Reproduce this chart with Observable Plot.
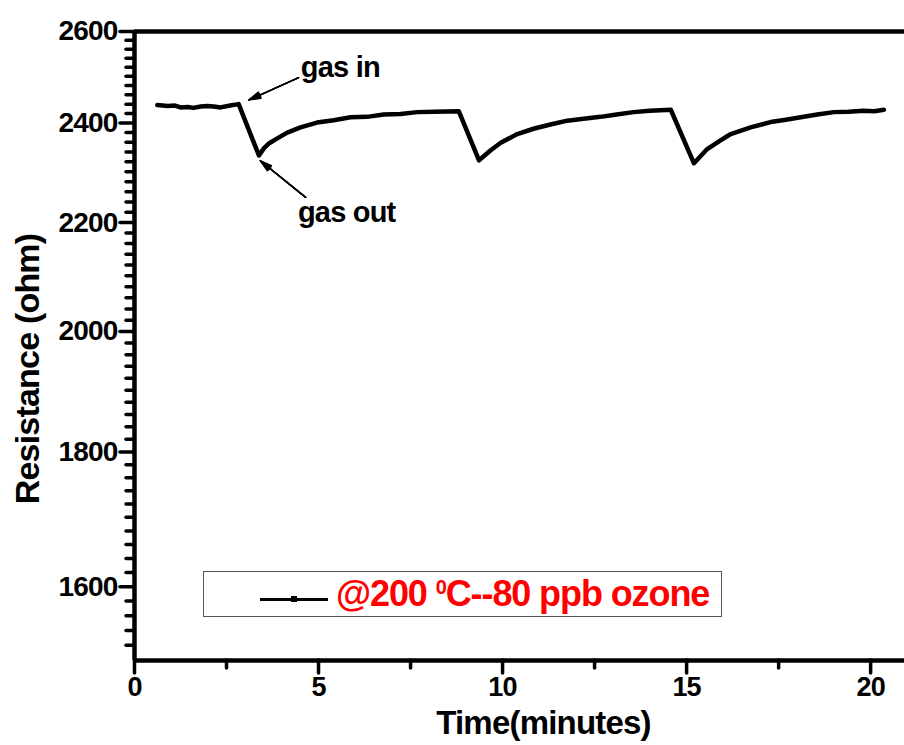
<!DOCTYPE html>
<html>
<head>
<meta charset="utf-8">
<script src="https://cdn.jsdelivr.net/npm/d3@7"></script>
<script src="https://cdn.jsdelivr.net/npm/@observablehq/plot@0.6"></script>
<style>
  html, body { margin: 0; padding: 0; background: white; }
  #wrap { position: relative; width: 904px; height: 745px; font-family: "Liberation Sans", Arial, sans-serif; }
  #wrap svg text { letter-spacing: -0.8px; }
  #legend { position: absolute; left: 203px; top: 571px; width: 519px; height: 46px; box-sizing: border-box; border: 1.5px solid #555; background: white; }
  #legend .ln { position: absolute; left: 56px; top: 25.5px; width: 68px; height: 3px; background: black; }
  #legend .mk { position: absolute; left: 87px; top: 24px; width: 6px; height: 6px; background: black; }
  #legend .tx { position: absolute; left: 132px; top: 4px; font-size: 36px; line-height: 36px; font-weight: bold; color: #ff0000; white-space: nowrap; letter-spacing: -1.1px; }
  #legend .tx sup { font-size: 20px; vertical-align: 0; position: relative; top: -12px; }
</style>
</head>
<body>
<div id="wrap"></div>
<script>
// Time (minutes) and resistance (ohm)
const time = [0.62, 0.9, 1.1, 1.25, 1.45, 1.6, 1.8, 1.98, 2.15, 2.34, 2.6, 2.83,
  3.38, 3.52, 3.66, 3.88, 4.15, 4.51, 4.96, 5.41, 5.87, 6.32, 6.77, 7.23, 7.68, 8.14, 8.81,
  9.36, 9.67, 9.95, 10.4, 10.84, 11.3, 11.76, 12.2, 12.66, 13.1, 13.56, 14.0, 14.57,
  15.2, 15.56, 15.9, 16.2, 16.74, 17.28, 17.7, 18.1, 18.55, 19.0, 19.4, 19.81, 20.1, 20.36];
const resistance = [2438, 2436, 2437, 2433, 2434, 2432, 2435, 2436, 2435, 2433, 2437, 2440,
  2333, 2348, 2358, 2368, 2380, 2391, 2401, 2406, 2412, 2413, 2418, 2419, 2423, 2424, 2425,
  2323, 2343, 2359, 2377, 2388, 2397, 2405, 2409, 2413, 2418, 2423, 2426, 2428,
  2317, 2346, 2363, 2377, 2391, 2402, 2407, 2412, 2418, 2423, 2424, 2426, 2425, 2428];

const yMajor = [1600, 1800, 2000, 2200, 2400, 2600];
const yMinor = d3.range(1520, 2600, 20).filter(v => v % 200 !== 0);
const xMajor = [0, 5, 10, 15, 20];
const xMinor = [2.5, 7.5, 12.5, 17.5];

const noteLabels = ["gas in", "gas out"];
const noteT = [4.52, 4.44];
const noteR = [2519, 2219];
const arrowFromT = [4.46, 4.65];
const arrowFromR = [2497, 2249];
const arrowToT = [3.11, 3.42];
const arrowToR = [2449, 2322];

const data = time.map((t, i) => ({t, r: resistance[i]}));
const notes = noteLabels.map((label, i) => ({label, t: noteT[i], r: noteR[i]}));
const arrows = arrowFromT.map((t1, i) => ({t1, r1: arrowFromR[i], t2: arrowToT[i], r2: arrowToR[i]}));

const font = "'Liberation Sans', Arial, sans-serif";

const arrowMarks = [8, 16, 24, 32].map(a => Plot.arrow(arrows, {
  x1: "t1", y1: "r1", x2: "t2", y2: "r2",
  stroke: "black", strokeWidth: 1.4, headLength: 13, headAngle: a
}));

const chart = Plot.plot({
  width: 904,
  height: 745,
  marginLeft: 134,
  marginRight: 0,
  marginTop: 31,
  marginBottom: 85,
  x: {domain: [0, 20.92]},
  y: {type: "log", domain: [1500, 2600]},
  style: {fontFamily: font, fontWeight: "bold", background: "white", overflow: "visible"},
  marks: [
    Plot.axisY({ticks: yMinor, tickSize: 8, strokeWidth: 3.5, strokeLinecap: "round", text: null, label: null}),
    Plot.axisY({ticks: yMajor, tickSize: 14, strokeWidth: 3.5, strokeLinecap: "round", tickPadding: 3,
      fontSize: 28, fontWeight: "bold", tickFormat: d => String(d), label: null}),
    Plot.axisX({ticks: xMinor, tickSize: 8, strokeWidth: 3.5, strokeLinecap: "round", text: null, label: null}),
    Plot.axisX({ticks: xMajor, tickSize: 13, strokeWidth: 3.5, strokeLinecap: "round", tickPadding: 3,
      fontSize: 27, fontWeight: "bold", tickFormat: d => String(d), label: null}),
    Plot.ruleX([0], {strokeWidth: 4.5}),
    Plot.ruleY([1500], {strokeWidth: 4.5}),
    Plot.ruleY([2600], {strokeWidth: 4.5}),
    Plot.line(data, {x: "t", y: "r", stroke: "black", strokeWidth: 4.5, strokeLinejoin: "round"}),
    ...arrowMarks,
    Plot.text(notes, {x: "t", y: "r", text: "label", textAnchor: "start", lineAnchor: "middle",
      fontSize: 29, fontWeight: "bold", fill: "black"}),
    Plot.text(["Time(minutes)"], {text: d => d, frameAnchor: "bottom", dx: 24, dy: 50, lineAnchor: "top",
      fontSize: 33, fontWeight: "bold", fill: "black"}),
    Plot.text(["Resistance (ohm)"], {text: d => d, frameAnchor: "left", dx: -106, dy: 23, rotate: -90,
      textAnchor: "middle", lineAnchor: "middle", fontSize: 34, fontWeight: "bold", fill: "black"})
  ]
});

const wrap = document.getElementById("wrap");
wrap.appendChild(chart);
const legend = document.createElement("div");
legend.id = "legend";
legend.innerHTML = '<div class="ln"></div><div class="mk"></div><div class="tx">@200 <sup>0</sup>C--80 ppb ozone</div>';
wrap.appendChild(legend);
</script>
</body>
</html>
